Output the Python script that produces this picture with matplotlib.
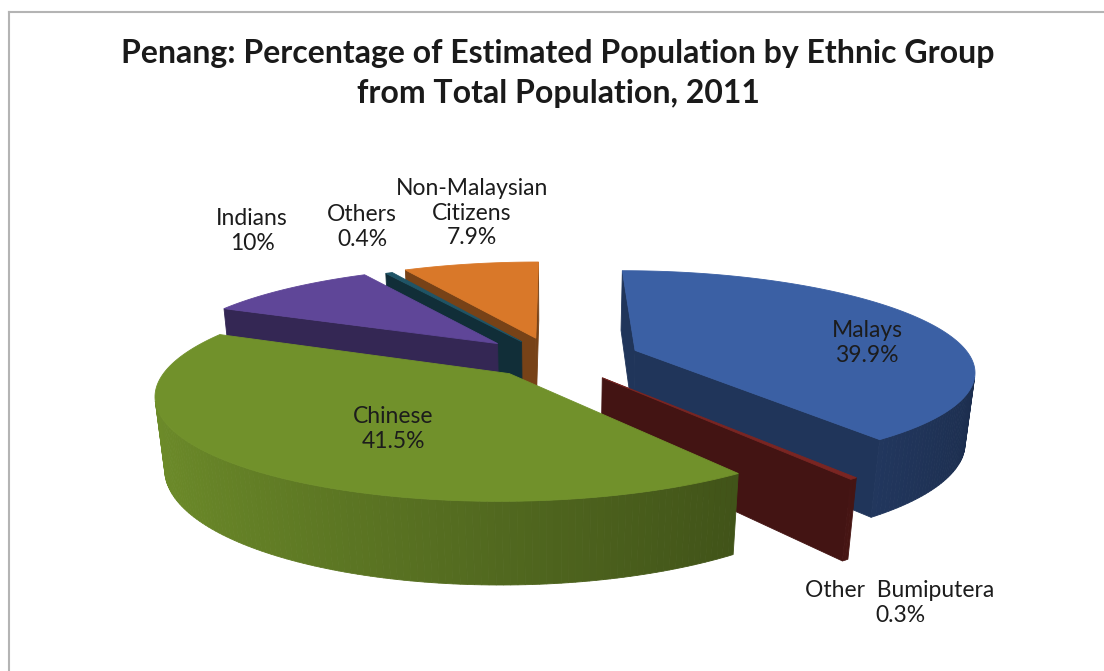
import numpy as np
import matplotlib
import matplotlib.pyplot as plt
from matplotlib.patches import Polygon

# ---------------------------------------------------------------------------
# Data (Penang, 2011)
# ---------------------------------------------------------------------------
groups = ["Malays", "Other  Bumiputera", "Chinese", "Indians", "Others",
          "Non-Malaysian\nCitizens"]
shares = [39.9, 0.3, 41.5, 10.0, 0.4, 7.9]
share_labels = ["39.9%", "0.3%", "41.5%", "10%", "0.4%", "7.9%"]

# ---------------------------------------------------------------------------
# Style / layout
# ---------------------------------------------------------------------------
top_colors = ["#3b60a4", "#7a2522", "#71912b", "#5f4698", "#1f5466", "#d97829"]
explode = [0.26, 0.24, 0.2, 0.23, 0.2, 0.22]
label_xy = [(867, 343), (900, 603), (393, 429), (252, 231), (362, 227), (472, 213)]

ELEV = np.radians(24)
CAM = 5.0          # camera distance in pie radii (perspective strength)
THICK = 0.28       # pie height in pie radii
BOX = (155, 975, 262, 585)   # left, right, top, bottom of the pie in pixels
W, H = 1104, 671


def project(p):
    x, y, z = p[:, 0], p[:, 1], p[:, 2]
    depth = y * np.cos(ELEV) - z * np.sin(ELEV)
    f = CAM / (CAM + depth)
    return np.column_stack([x * f, (y * np.sin(ELEV) + z * np.cos(ELEV)) * f]), depth


def signed_area(q):
    x, y = q[:, 0], q[:, 1]
    return 0.5 * np.sum(x * np.roll(y, -1) - np.roll(x, -1) * y)


def shade(color, k):
    rgb = np.array(matplotlib.colors.to_rgb(color))
    return tuple(np.clip(rgb * k, 0, 1))


# build the faces of every slice (angles run clockwise from 12 o'clock)
slices = []
start = 90.0
for share, color, ex in zip(shares, top_colors, explode):
    a1 = np.radians(start)
    a0 = np.radians(start - share * 3.6)
    start -= share * 3.6
    mid = 0.5 * (a0 + a1)
    ox, oy = ex * np.cos(mid), ex * np.sin(mid)
    n = max(3, int(np.degrees(a1 - a0)) + 2)
    t = np.linspace(a0, a1, n)
    rx, ry = ox + np.cos(t), oy + np.sin(t)

    faces = []
    e0 = (ox + np.cos(a0), oy + np.sin(a0))
    e1 = (ox + np.cos(a1), oy + np.sin(a1))
    faces.append((np.array([[ox, oy, 0], [e0[0], e0[1], 0],
                            [e0[0], e0[1], THICK], [ox, oy, THICK]]), shade(color, 0.55)))
    faces.append((np.array([[ox, oy, 0], [ox, oy, THICK],
                            [e1[0], e1[1], THICK], [e1[0], e1[1], 0]]), shade(color, 0.55)))
    for j in range(n - 1):
        quad = np.array([[rx[j], ry[j], 0], [rx[j + 1], ry[j + 1], 0],
                         [rx[j + 1], ry[j + 1], THICK], [rx[j], ry[j], THICK]])
        tm = 0.5 * (t[j] + t[j + 1])
        faces.append((quad, shade(color, 0.72 - 0.25 * np.cos(tm))))
    top = np.vstack([[ox, oy, THICK], np.column_stack([rx, ry, np.full(n, THICK)])])
    faces.append((top, color))

    kept, near = [], np.inf
    for pts, col in faces:
        q, depth = project(pts)
        near = min(near, depth.min())
        if signed_area(q) > 1e-9:
            kept.append((q, col))
    slices.append((near, kept))

# fit the projected pie into its pixel box
allpts = np.vstack([q for _, kept in slices for q, _ in kept])
xmin, ymin = allpts.min(axis=0)
xmax, ymax = allpts.max(axis=0)
L, R, T, B = BOX


def to_px(q):
    px = L + (q[:, 0] - xmin) / (xmax - xmin) * (R - L)
    py = B - (q[:, 1] - ymin) / (ymax - ymin) * (B - T)
    return np.column_stack([px, py])


fig = plt.figure(figsize=(W / 100, H / 100), dpi=100)
ax = fig.add_axes([0, 0, 1, 1])
ax.set_xlim(0, W)
ax.set_ylim(H, 0)
ax.axis("off")

# far slices first
for near, kept in sorted(slices, key=lambda s: -s[0]):
    for q, col in kept:
        ax.add_patch(Polygon(to_px(q), closed=True, facecolor=col,
                             edgecolor=col, linewidth=0.6))

# chart frame
ax.plot([9, W], [12, 12], color="#b4b4b4", lw=1.5)
ax.plot([9, 9], [12, H], color="#b4b4b4", lw=1.5)

ax.text(558, 63, "Penang: Percentage of Estimated Population by Ethnic Group",
        ha="center", va="baseline", fontsize=23, fontweight="bold",
        family="Lato", color="#1a1a1a")
ax.text(558, 103, "from Total Population, 2011",
        ha="center", va="baseline", fontsize=23, fontweight="bold",
        family="Lato", color="#1a1a1a")

for name, pct, (lx, ly) in zip(groups, share_labels, label_xy):
    ax.text(lx, ly, f"{name}\n{pct}", ha="center", va="center",
            fontsize=16.5, family="Lato", color="#1c1c1c", linespacing=1.2)

fig.savefig("out.png", dpi=100)
